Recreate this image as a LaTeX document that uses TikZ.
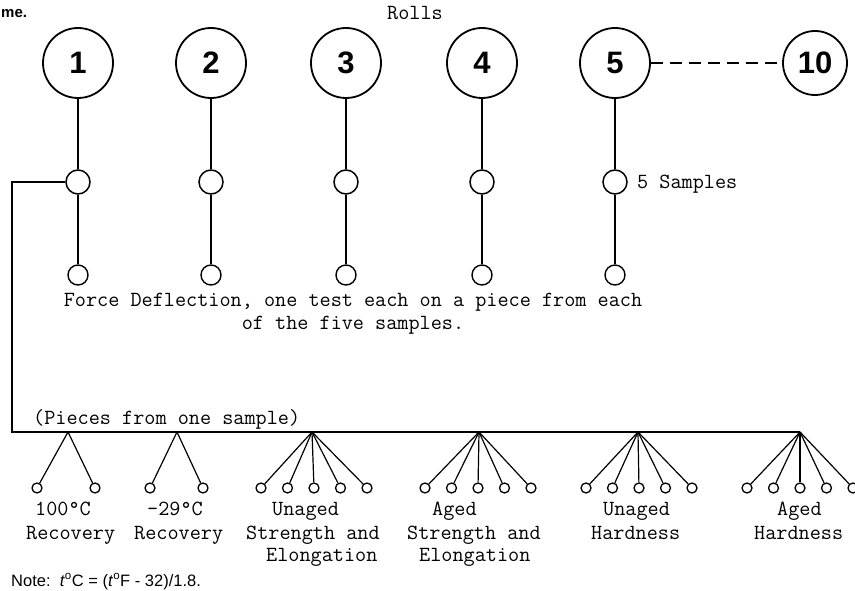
\documentclass[tikz,border=0pt]{standalone}
\usepackage{fontspec}
\newfontfamily\hsans{Liberation Sans}
\begin{document}
\begin{tikzpicture}[x=1pt,y=-1pt,
  roll/.style={circle,draw,line width=1.8pt,minimum size=70pt,inner sep=0pt,font=\hsans\bfseries\fontsize{31}{31}\selectfont},
  samp/.style={circle,draw,line width=1.5pt,minimum size=24pt,inner sep=0pt},
  fd/.style={circle,draw,line width=1.4pt,minimum size=20pt,inner sep=0pt},
  leaf/.style={circle,draw,line width=1.3pt,minimum size=10pt,inner sep=0pt},
  tw/.style={font=\ttfamily\fontsize{21.6}{23}\selectfont,inner sep=0pt,anchor=base west},
  heavy/.style={line width=2pt},
  medium/.style={line width=1.5pt},
  light/.style={line width=1.2pt}]
\useasboundingbox (0,0) rectangle (855,591);

% caption fragment and title
\node[anchor=base west,inner sep=0pt,font=\hsans\bfseries\fontsize{15}{15}\selectfont] (cap) at (1,18) {me.};
\node[tw] (rolls) at (387,20) {Rolls};

% rolls
\node[roll] (r1) at (78,63) {1};
\node[roll] (r2) at (211,63) {2};
\node[roll] (r3) at (346,63) {3};
\node[roll] (r4) at (482,63) {4};
\node[roll] (r5) at (615,63) {5};
\node[roll,minimum size=64pt] (r10) at (815,63) {10};
\draw[heavy,dash pattern=on 12pt off 7pt] (r5.east) -- (r10.west);

% samples and force deflection pieces
\foreach \i/\x in {1/78,2/211,3/346,4/482,5/615}{
  \node[samp] (s\i) at (\x,182) {};
  \node[fd] (f\i) at (\x,275) {};
  \draw[heavy] (r\i) -- (s\i);
  \draw[medium] (s\i) -- (f\i);
}
\node[tw] (five) at (637,189) {5 Samples};
\node[font=\ttfamily\fontsize{21.6}{23}\selectfont,inner sep=0pt,align=center,anchor=north] (fdtext) at (353,293)
  {Force Deflection, one test each on a piece from each\\of the five samples.};

% bracket to pieces
\coordinate (bl) at (12,432);
\coordinate (b1) at (68,432);
\coordinate (b2) at (177,432);
\coordinate (b3) at (312,432);
\coordinate (b4) at (479,432);
\coordinate (b5) at (638,432);
\coordinate (b6) at (800,432);
\draw[heavy] (s1.west) -| (bl) -- (b6);
\node[tw] (pieces) at (33,424) {(Pieces from one sample)};

% leaves
\foreach \g/\a/\b in {1/37/95,2/150/203}{
  \node[leaf] (l\g-1) at (\a,488) {};
  \node[leaf] (l\g-2) at (\b,488) {};
  \draw[light] (b\g) -- (l\g-1);
  \draw[light] (b\g) -- (l\g-2);
}
\foreach \g/\c in {3/314,4/478,5/639,6/800}{
  \foreach \k/\o in {1/-53,2/-26.5,3/0,4/26.5,5/53}{
    \node[leaf] (l\g-\k) at (\c+\o,488) {};
    \draw[light] (b\g) -- (l\g-\k);
  }
}

% labels
\node[tw] (t1a) at (35,515) {100°C};
\node[tw] (t1b) at (26,539) {Recovery};
\node[tw] (t2a) at (147,515) {-29°C};
\node[tw] (t2b) at (134,539) {Recovery};
\node[tw] (t3a) at (272,515) {Unaged};
\node[tw] (t3b) at (246,539) {Strength and};
\node[tw] (t3c) at (266,561) {Elongation};
\node[tw] (t4a) at (432,515) {Aged};
\node[tw] (t4b) at (407,539) {Strength and};
\node[tw] (t4c) at (419,561) {Elongation};
\node[tw] (t5a) at (603,515) {Unaged};
\node[tw] (t5b) at (591,539) {Hardness};
\node[tw] (t6a) at (777,515) {Aged};
\node[tw] (t6b) at (754,539) {Hardness};

% note
\node[anchor=base west,inner sep=0pt,font=\hsans\fontsize{16.5}{18}\selectfont] (note) at (11,586)
  {Note:\ \ \textit{t}\textsuperscript{o}C = (\textit{t}\textsuperscript{o}F - 32)/1.8.};
\end{tikzpicture}
\end{document}
